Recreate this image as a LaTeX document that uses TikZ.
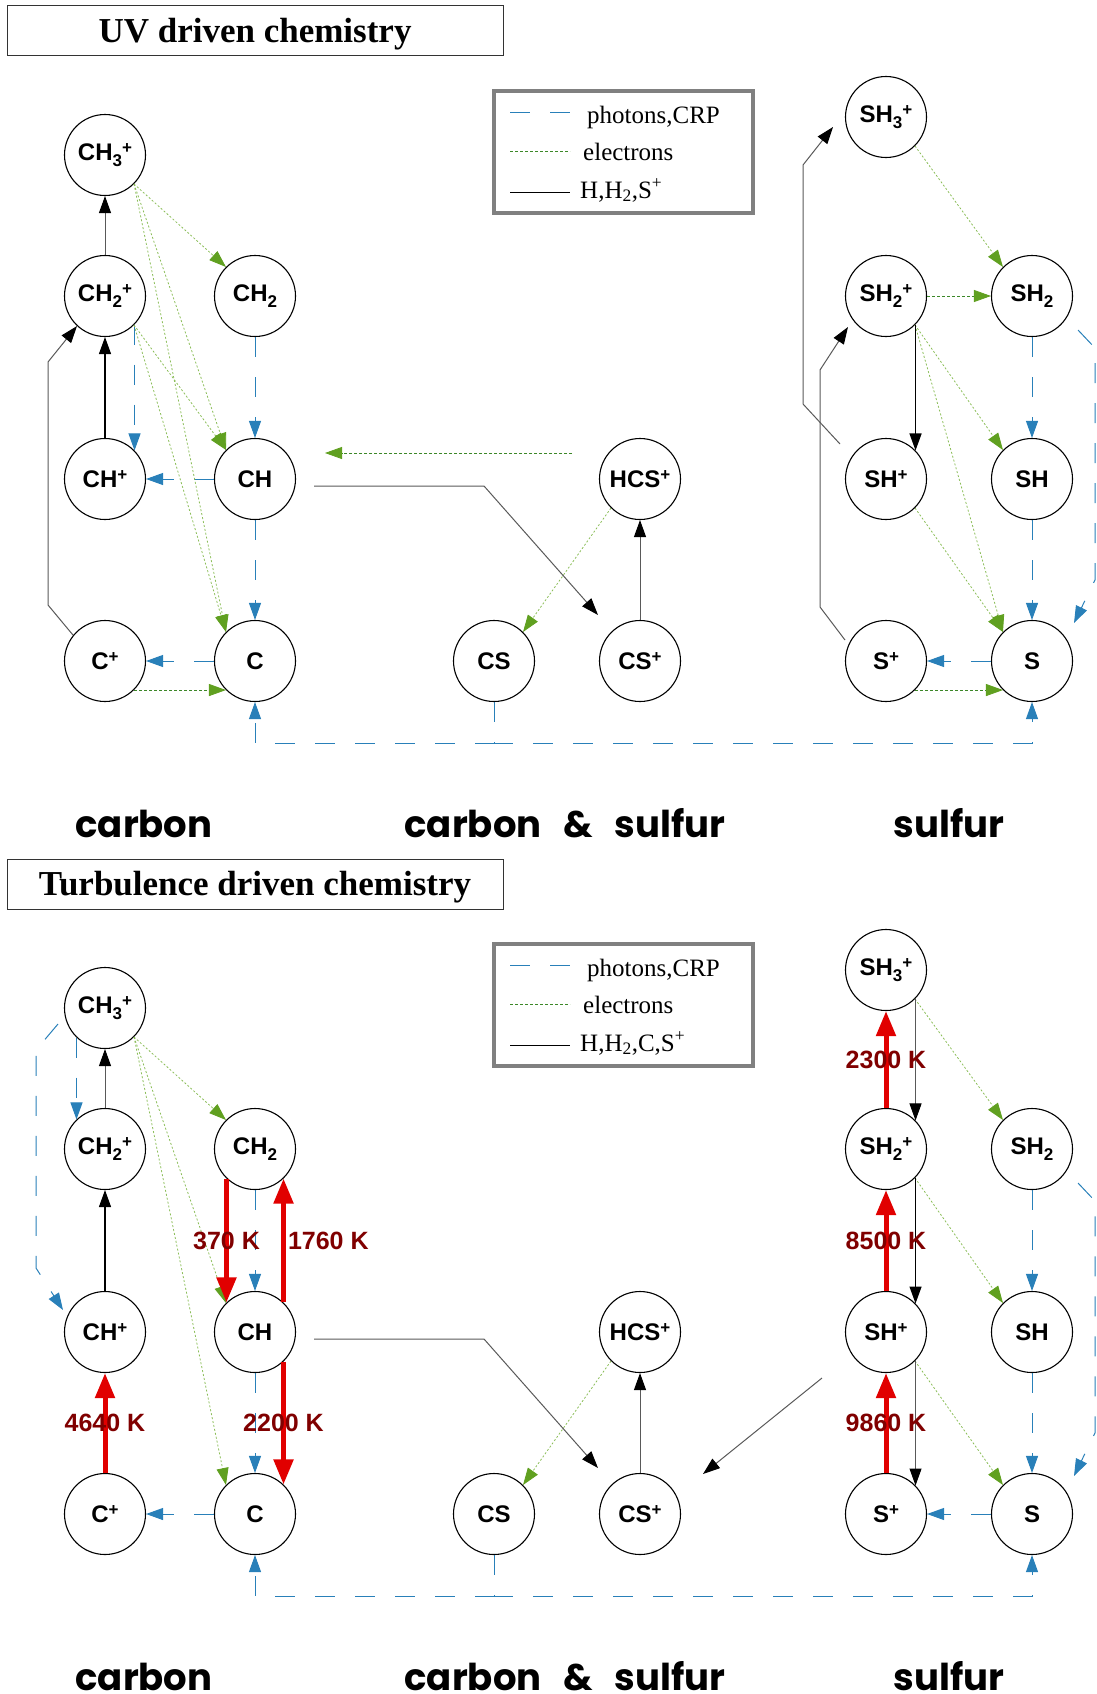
\documentclass[tikz,border=0pt]{standalone}
\usepackage{fontspec}
\setmainfont{Liberation Serif}
\newfontfamily\molfont{Liberation Sans}
\newfontfamily\areafont{Poppins}
\usetikzlibrary{arrows.meta}

\definecolor{photoblue}{RGB}{41,128,185}
\definecolor{elecgreen}{RGB}{140,190,90}
\definecolor{elecarrow}{RGB}{96,160,32}
\definecolor{elecdark}{RGB}{60,135,40}
\definecolor{heatred}{RGB}{225,0,0}
\definecolor{labred}{RGB}{128,0,0}

% sub- and superscripts in the species names
\newcommand\lowidx[1]{\raisebox{-6pt}{\fontsize{17}{17}\selectfont #1}}
\newcommand\hiidx[1]{\raisebox{6.5pt}{\fontsize{17}{17}\selectfont #1}}

\tikzset{
  species/.style={circle, draw, line width=1.1pt, minimum size=81pt, inner sep=0pt,
    font=\molfont\bfseries\fontsize{24}{26}\selectfont},
  photo/.style={draw=photoblue, line width=1pt, dash pattern=on 20pt off 20pt,
    -{Triangle[width=12pt,length=17pt]}},
  elec/.style={draw=elecgreen, line width=0.8pt, dash pattern=on 2pt off 2pt,
    -{Triangle[width=12pt,length=17pt,color=elecarrow]}},
  elecflat/.style={elec, draw=elecdark, dash pattern=on 3pt off 2pt},
  hreac/.style={draw=black!65, line width=1pt, -{Triangle[width=12pt,length=17pt,color=black]}},
  hstrong/.style={draw=black, line width=1.3pt, -{Triangle[width=12pt,length=17pt]}},
  heat/.style={draw=heatred, line width=5pt, -{Triangle[width=19pt,length=25pt]}},
  templab/.style={text=labred, inner sep=0pt, font=\molfont\bfseries\fontsize{25}{27}\selectfont},
  paneltitle/.style={draw=black!80, line width=1pt, minimum width=496pt, minimum height=50pt,
    inner sep=0pt, text height=30pt, text depth=7pt, font=\bfseries\fontsize{35}{40}\selectfont},
  legendbox/.style={draw=black!50, line width=3.5pt},
  legtext/.style={anchor=base west, inner sep=0pt, font=\fontsize{25}{28}\selectfont},
  arealabel/.style={anchor=base, inner sep=0pt, font=\areafont\bfseries\fontsize{37}{40}\selectfont}
}

\begin{document}
\begin{tikzpicture}[x=1pt,y=-1pt]
\useasboundingbox (0,0) rectangle (1096,1694);

%%% UV driven chemistry
\node[paneltitle] (uvtitle) at (255,31) {UV driven chemistry};

\draw[legendbox] (494,91) rectangle (753,213);
\draw[photo,-] (510,112) -- (570,112);
\draw[elecdark, line width=0.8pt, dash pattern=on 3pt off 2pt] (510,151) -- (570,151);
\draw[black, line width=1pt] (510,192) -- (570,192);
\node[legtext] (uleg1) at (587,123) {photons,CRP};
\node[legtext] (uleg2) at (583,160) {electrons};
\node[legtext] (uleg3) at (580,198) {H,H\textsubscript{2},S\textsuperscript{+}};

% carbon
\node[species] (uCH3p) at (105,155) {CH\lowidx{3}\hiidx{+}};
\node[species] (uCH2p) at (105,296) {CH\lowidx{2}\hiidx{+}};
\node[species] (uCH2) at (255,296) {CH\lowidx{2}};
\node[species] (uCHp) at (105,479) {CH\hiidx{+}};
\node[species] (uCH) at (255,479) {CH};
\node[species] (uCp) at (105,661) {C\hiidx{+}};
\node[species] (uC) at (255,661) {C};
% carbon & sulfur
\node[species] (uHCSp) at (640,479) {HCS\hiidx{+}};
\node[species] (uCS) at (494,661) {CS};
\node[species] (uCSp) at (640,661) {CS\hiidx{+}};
% sulfur
\node[species] (uSH3p) at (886,117) {SH\lowidx{3}\hiidx{+}};
\node[species] (uSH2p) at (886,296) {SH\lowidx{2}\hiidx{+}};
\node[species] (uSH2) at (1032,296) {SH\lowidx{2}};
\node[species] (uSHp) at (886,479) {SH\hiidx{+}};
\node[species] (uSH) at (1032,479) {SH};
\node[species] (uSp) at (886,661) {S\hiidx{+}};
\node[species] (uS) at (1032,661) {S};

\node[arealabel] (ucarbon) at (144,837) {carbon};
\node[arealabel] (ucarbsul) at (565,837) {carbon\hspace{14pt} \&\hspace{14pt} sulfur};
\node[arealabel] (usulfur) at (949,837) {sulfur};

% free ends
\coordinate (uhcsfrom) at (572,453);
\coordinate (uhcsto) at (325,453);
\coordinate (uchout) at (314,486);
\coordinate (uchbend) at (484,486);
\coordinate (ucsin) at (598,615);
\coordinate (ucsjoin) at (494,743);

% photons, CRP
\draw[photo] (uCH2p.-44) -- (uCHp.44);
\draw[photo] (uCH2.south) -- (uCH.north);
\draw[photo] (uCH.west) -- (uCHp.east);
\draw[photo] (uCH.south) -- (uC.north);
\draw[photo] (uC.west) -- (uCp.east);
\draw[photo] (uCS.south) -- (ucsjoin) -| (uC.south);
\draw[photo] (uCS.south) -- (ucsjoin) -| (uS.south);
\draw[photo] (uSH2.south) -- (uSH.north);
\draw[photo] (uSH.south) -- (uS.north);
\draw[photo] (uS.west) -- (uSp.east);
\draw[photo] (1078,330) -- (1095,348) -- (1095,580) -- (1074,623);

% electrons
\draw[elec] (uCH3p.-45) -- (uCH2.135);
\draw[elec] (uCH3p.-45) -- (uCH.135);
\draw[elec] (uCH3p.-45) -- (uC.135);
\draw[elec] (uCH2p.-45) -- (uCH.135);
\draw[elec] (uCH2p.-45) -- (uC.135);
\draw[elecflat] (uCp.-45) -- (uC.225);
\draw[elecflat] (uhcsfrom) -- (uhcsto);
\draw[elec] (uHCSp.225) -- (uCS.45);
\draw[elec] (uSH3p.-45) -- (uSH2.135);
\draw[elecflat] (uSH2p.east) -- (uSH2.west);
\draw[elec] (uSH2p.-45) -- (uSH.135);
\draw[elec] (uSH2p.-45) -- (uS.135);
\draw[elec] (uSHp.-45) -- (uS.135);
\draw[elecflat] (uSp.-45) -- (uS.225);

% H, H2, S+
\draw[hreac] (uCH2p.north) -- (uCH3p.south);
\draw[hstrong] (uCHp.north) -- (uCH2p.south);
\draw[hreac] (uCp.141) -- (48,605) -- (48,362) -- (uCH2p.227);
\draw[hreac] (uchout) -- (uchbend) -- (ucsin);
\draw[hreac] (uCSp.north) -- (uHCSp.south);
\draw[hreac] (840,444) -- (803,404) -- (803,165) -- (833,127);
\draw[hreac] (845,640) -- (820,607) -- (820,370) -- (848,327);
\draw[hstrong] (uSH2p.-44) -- (uSHp.44);

%%% Turbulence driven chemistry
\begin{scope}[yshift=-853pt]
\node[paneltitle] (tdtitle) at (255,31) {Turbulence driven chemistry};

\draw[legendbox] (494,91) rectangle (753,213);
\draw[photo,-] (510,112) -- (570,112);
\draw[elecdark, line width=0.8pt, dash pattern=on 3pt off 2pt] (510,151) -- (570,151);
\draw[black, line width=1pt] (510,192) -- (570,192);
\node[legtext] (tleg1) at (587,123) {photons,CRP};
\node[legtext] (tleg2) at (583,160) {electrons};
\node[legtext] (tleg3) at (580,198) {H,H\textsubscript{2},C,S\textsuperscript{+}};

\node[species] (tCH3p) at (105,155) {CH\lowidx{3}\hiidx{+}};
\node[species] (tCH2p) at (105,296) {CH\lowidx{2}\hiidx{+}};
\node[species] (tCH2) at (255,296) {CH\lowidx{2}};
\node[species] (tCHp) at (105,479) {CH\hiidx{+}};
\node[species] (tCH) at (255,479) {CH};
\node[species] (tCp) at (105,661) {C\hiidx{+}};
\node[species] (tC) at (255,661) {C};
\node[species] (tHCSp) at (640,479) {HCS\hiidx{+}};
\node[species] (tCS) at (494,661) {CS};
\node[species] (tCSp) at (640,661) {CS\hiidx{+}};
\node[species] (tSH3p) at (886,117) {SH\lowidx{3}\hiidx{+}};
\node[species] (tSH2p) at (886,296) {SH\lowidx{2}\hiidx{+}};
\node[species] (tSH2) at (1032,296) {SH\lowidx{2}};
\node[species] (tSHp) at (886,479) {SH\hiidx{+}};
\node[species] (tSH) at (1032,479) {SH};
\node[species] (tSp) at (886,661) {S\hiidx{+}};
\node[species] (tS) at (1032,661) {S};

\node[arealabel] (tcarbon) at (144,837) {carbon};
\node[arealabel] (tcarbsul) at (565,837) {carbon\hspace{14pt} \&\hspace{14pt} sulfur};
\node[arealabel] (tsulfur) at (949,837) {sulfur};

\coordinate (tchout) at (314,486);
\coordinate (tchbend) at (484,486);
\coordinate (tcsin) at (598,615);
\coordinate (tshout) at (822,525);
\coordinate (tshin) at (703,621);
\coordinate (tcsjoin) at (494,743);

\draw[photo] (tCH3p.226) -- (tCH2p.134);
\draw[photo] (58,171) -- (36,197) -- (36,415) -- (63,457);
\draw[photo] (tCH2.south) -- (tCH.north);
\draw[photo] (tCH.south) -- (tC.north);
\draw[photo] (tC.west) -- (tCp.east);
\draw[photo] (tCS.south) -- (tcsjoin) -| (tC.south);
\draw[photo] (tCS.south) -- (tcsjoin) -| (tS.south);
\draw[photo] (tSH2.south) -- (tSH.north);
\draw[photo] (tSH.south) -- (tS.north);
\draw[photo] (tS.west) -- (tSp.east);
\draw[photo] (1078,330) -- (1095,348) -- (1095,580) -- (1074,623);

\draw[elec] (tCH3p.-45) -- (tCH2.135);
\draw[elec] (tCH3p.-45) -- (tCH.135);
\draw[elec] (tCH3p.-45) -- (tC.135);
\draw[elec] (tHCSp.225) -- (tCS.45);
\draw[elec] (tSH3p.-45) -- (tSH2.135);
\draw[elec] (tSH2p.-45) -- (tSH.135);
\draw[elec] (tSHp.-45) -- (tS.135);

\draw[hreac] (tCH2p.north) -- (tCH3p.south);
\draw[hstrong] (tCHp.north) -- (tCH2p.south);
\draw[hreac] (tchout) -- (tchbend) -- (tcsin);
\draw[hreac] (tCSp.north) -- (tHCSp.south);
\draw[hreac] (tshout) -- (tshin);
\draw[hreac] (tSH3p.-44) -- (tSH2p.44);
\draw[hstrong] (tSH2p.-44) -- (tSHp.44);
\draw[hreac] (tSHp.-44) -- (tSp.44);

% temperature driven routes
\draw[heat] (tCH2.226) -- node[templab] (t370) {370 K} (tCH.134);
\draw[heat] (tCH.46) -- node[templab, anchor=west, xshift=2pt] (t1760) {1760 K} (tCH2.-46);
\draw[heat] (tCH.-46) -- node[templab] (t2200) {2200 K} (tC.46);
\draw[heat] (tCp.north) -- node[templab] (t4640) {4640 K} (tCHp.south);
\draw[heat] (tSp.north) -- node[templab] (t9860) {9860 K} (tSHp.south);
\draw[heat] (tSHp.north) -- node[templab] (t8500) {8500 K} (tSH2p.south);
\draw[heat] (tSH2p.north) -- node[templab] (t2300) {2300 K} (tSH3p.south);
\end{scope}
\end{tikzpicture}
\end{document}
